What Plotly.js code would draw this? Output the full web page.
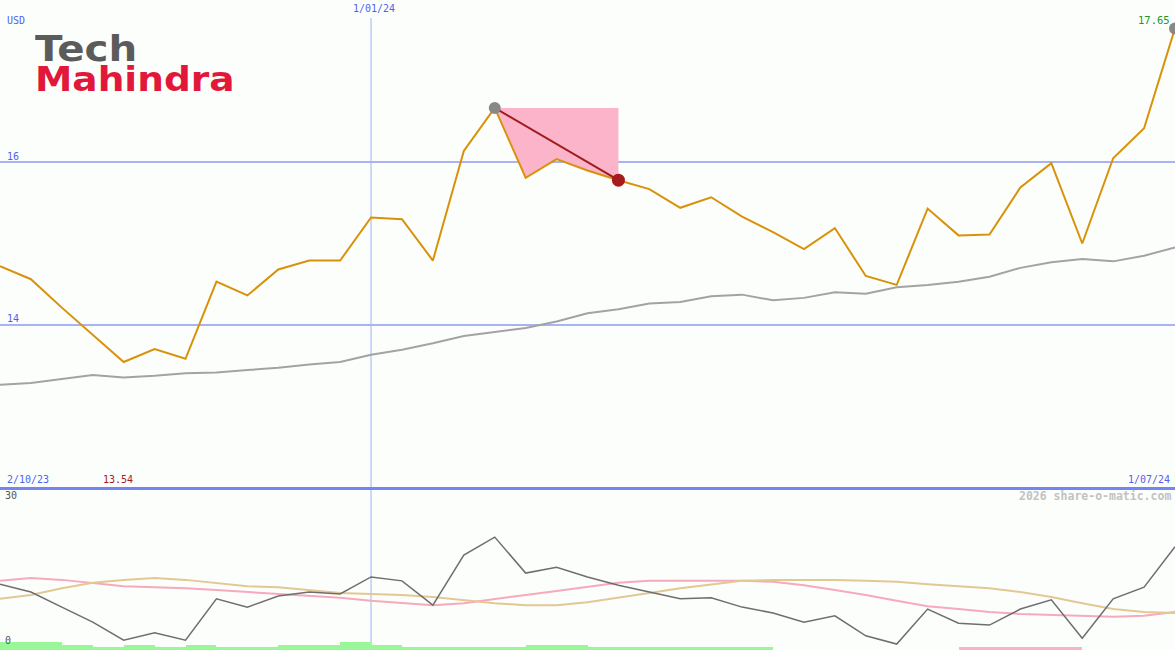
<!DOCTYPE html>
<html>
<head>
<meta charset="utf-8">
<script src="https://cdn.plot.ly/plotly-3.0.1.min.js"></script>
<style>
  html, body { margin: 0; padding: 0; background: #fcfefc; }
  #wrap { position: relative; width: 1175px; height: 650px; }
  #chart { width: 1175px; height: 650px; }
  #logo { position: absolute; left: 35px; top: 34px; font-family: "DejaVu Sans", sans-serif; font-weight: bold; font-size: 33.5px; line-height: 30px; transform: scaleX(1.12); transform-origin: left top; white-space: nowrap; }
</style>
</head>
<body>
<div id="wrap">
  <div id="chart"></div>
  <div id="logo"><span style="color:#5b5b5b; font-size:36px;">Tech</span><br><span style="color:#e2183a;">Mahindra</span></div>
</div>
<script>
// ---- data (weekly closes, USD) ----
const price = [14.72,14.56,14.21,13.88,13.54,13.70,13.58,14.53,14.36,14.68,14.79,14.79,15.32,15.30,14.79,16.14,16.67,15.81,16.04,15.90,15.78,15.67,15.44,15.57,15.33,15.14,14.93,15.19,14.60,14.49,15.43,15.10,15.11,15.69,15.99,15.00,16.05,16.42,17.65];
const avgLine = [13.26,13.28,13.33,13.38,13.35,13.37,13.40,13.41,13.44,13.47,13.51,13.54,13.63,13.69,13.77,13.86,13.91,13.96,14.04,14.14,14.19,14.26,14.28,14.35,14.37,14.30,14.33,14.40,14.38,14.46,14.49,14.53,14.59,14.70,14.77,14.81,14.78,14.85,14.95];
// lower panel (0..30 scale)
const osc = [12.9,11.3,8.2,5.1,1.4,2.9,1.4,9.9,8.2,10.5,11.3,10.9,14.4,13.6,8.6,18.9,22.6,15.2,16.4,14.4,12.7,11.3,9.9,10.1,8.2,7.0,5.1,6.4,2.3,0.6,7.8,4.9,4.5,7.8,9.7,1.8,9.9,12.3,20.6];
const oscPink = [13.6,14.2,13.8,13.2,12.5,12.3,12.1,11.7,11.3,10.9,10.5,10.1,9.5,9.0,8.6,9.0,9.9,10.7,11.5,12.3,13.2,13.6,13.6,13.6,13.6,13.4,12.7,11.7,10.7,9.5,8.4,7.8,7.2,6.8,6.6,6.4,6.2,6.4,7.2];
const oscTan = [9.9,10.7,12.1,13.2,13.8,14.2,13.8,13.2,12.5,12.3,11.7,11.1,10.9,10.7,10.3,9.7,9.0,8.6,8.6,9.2,10.1,11.1,12.1,12.9,13.6,13.8,13.8,13.8,13.6,13.4,12.9,12.5,12.1,11.3,10.3,9.0,7.8,7.2,7.0];
// weekly signal strip (positive = green, negative = pink)
const signal = [8,8,5,3,5,3,5,3,3,5,5,8,5,3,3,3,3,5,5,3,3,3,3,3,3,0,0,0,0,0,0,-3,-3,-3,-3,0,0,0];
// labels
const startLabel = "2/10/23";
const endLabel = "1/07/24";
const yearLabel = "1/01/24";
const yearIndex = 12;
const ddStart = 16;   // drawdown peak index
const ddEnd = 20;     // drawdown end index
const priceTicks = [14, 16];
const oscTicks = [0, 30];

const idx = price.map((_, i) => i);
const minPrice = Math.min(...price);
const lastIdx = price.length - 1;

const BLUE = '#5262ee';
const mono = '"DejaVu Sans Mono", monospace';

// drawdown fill polygon
const ddX = [], ddY = [];
for (let i = ddStart; i <= ddEnd; i++) { ddX.push(i); ddY.push(price[i]); }
ddX.push(ddEnd, ddStart); ddY.push(price[ddStart], price[ddStart]);

const sigX = signal.map((_, i) => i + 0.5);

const traces = [
  { x: ddX, y: ddY, type: 'scatter', mode: 'lines', fill: 'toself', fillcolor: '#fbb4ca', line: { width: 0 }, hoverinfo: 'skip', xaxis: 'x', yaxis: 'y' },
  { x: idx, y: avgLine, type: 'scatter', mode: 'lines', line: { color: '#a3a3a3', width: 2 }, xaxis: 'x', yaxis: 'y' },
  { x: idx, y: price, type: 'scatter', mode: 'lines', line: { color: '#d8920a', width: 2 }, xaxis: 'x', yaxis: 'y' },
  { x: [ddStart, ddEnd], y: [price[ddStart], price[ddEnd]], type: 'scatter', mode: 'lines', line: { color: '#a01c1c', width: 2 }, xaxis: 'x', yaxis: 'y' },
  { x: [ddStart, lastIdx], y: [price[ddStart], price[lastIdx]], type: 'scatter', mode: 'markers', marker: { color: '#888888', size: 12 }, xaxis: 'x', yaxis: 'y' },
  { x: [ddEnd], y: [price[ddEnd]], type: 'scatter', mode: 'markers', marker: { color: '#a61c1c', size: 13 }, xaxis: 'x', yaxis: 'y' },
  // lower panel
  { x: sigX, y: signal.map(Math.abs), type: 'bar', width: 1, marker: { color: signal.map(v => v >= 0 ? '#99f797' : '#fab4c8'), line: { width: 0 } }, xaxis: 'x', yaxis: 'y3' },
  { x: idx, y: oscPink, type: 'scatter', mode: 'lines', line: { color: '#f7a9bd', width: 2 }, xaxis: 'x', yaxis: 'y2' },
  { x: idx, y: oscTan, type: 'scatter', mode: 'lines', line: { color: '#e2c894', width: 2 }, xaxis: 'x', yaxis: 'y2' },
  { x: idx, y: osc, type: 'scatter', mode: 'lines', line: { color: '#6e6e6e', width: 1.5 }, xaxis: 'x', yaxis: 'y2' }
];

const mainBottom = 163 / 650;

const layout = {
  width: 1175, height: 650,
  margin: { l: 0, r: 0, t: 0, b: 0 },
  paper_bgcolor: '#fcfefc', plot_bgcolor: '#fcfefc',
  showlegend: false, bargap: 0,
  font: { family: mono, size: 10, color: BLUE },
  xaxis: { range: [0, lastIdx], showgrid: false, zeroline: false, showticklabels: false, ticks: '',
           showline: true, linecolor: '#7484f2', linewidth: 3, anchor: 'y', fixedrange: true },
  yaxis: { domain: [mainBottom, 1], range: [12, 18], tickvals: priceTicks, ticktext: priceTicks.map(String),
           showgrid: true, gridcolor: '#a7b3f2', gridwidth: 2, zeroline: false, ticks: '',
           ticklabelposition: 'inside top', tickfont: { family: mono, size: 10, color: BLUE },
           ticklabelshift: 1, ticklabelstandoff: 4 },
  yaxis2: { domain: [0, mainBottom], range: [-0.62, 32.9], tickvals: oscTicks, ticktext: oscTicks.map(String),
            showgrid: false, zeroline: false, ticks: '', ticklabelposition: 'inside top',
            tickfont: { family: mono, size: 10, color: '#555555' }, ticklabelshift: 1, ticklabelstandoff: 2 },
  yaxis3: { domain: [0, mainBottom], overlaying: 'y2', range: [0, 163], visible: false },
  shapes: [
    { type: 'line', xref: 'x', yref: 'paper', x0: yearIndex, x1: yearIndex, y0: 0, y1: 1 - 18 / 650, line: { color: '#a3b0f7', width: 1 }, layer: 'below' }
  ],
  annotations: [
    { text: 'USD', xref: 'paper', yref: 'paper', x: 5 / 1175, y: 1 - 20 / 650, xanchor: 'left', yanchor: 'middle', showarrow: false, font: { family: mono, size: 10, color: BLUE } },
    { text: yearLabel, xref: 'x', yref: 'paper', x: yearIndex, y: 1 - 9 / 650, xanchor: 'center', yanchor: 'middle', xshift: 3, showarrow: false, font: { family: mono, size: 10, color: BLUE } },
    { text: price[lastIdx].toFixed(2), xref: 'x', yref: 'y', x: lastIdx, y: price[lastIdx], xanchor: 'right', yanchor: 'middle', xshift: -3, yshift: 8, showarrow: false, font: { family: mono, size: 10.5, color: '#229922' } },
    { text: startLabel, xref: 'paper', yref: 'paper', x: 5 / 1175, y: 1 - 479 / 650, xanchor: 'left', yanchor: 'middle', showarrow: false, font: { family: mono, size: 10, color: BLUE } },
    { text: minPrice.toFixed(2), xref: 'paper', yref: 'paper', x: 101 / 1175, y: 1 - 479 / 650, xanchor: 'left', yanchor: 'middle', showarrow: false, font: { family: mono, size: 10, color: '#a51c1c' } },
    { text: endLabel, xref: 'paper', yref: 'paper', x: 1172 / 1175, y: 1 - 479 / 650, xanchor: 'right', yanchor: 'middle', showarrow: false, font: { family: mono, size: 10, color: BLUE } },
    { text: '<b>2026 share-o-matic.com</b>', xref: 'paper', yref: 'paper', x: 1173 / 1175, y: 1 - 496 / 650, xanchor: 'right', yanchor: 'middle', showarrow: false, font: { family: mono, size: 11.5, color: '#c2c2c2' } }
  ]
};

Plotly.newPlot('chart', traces, layout, { staticPlot: true, displayModeBar: false });
</script>
</body>
</html>
